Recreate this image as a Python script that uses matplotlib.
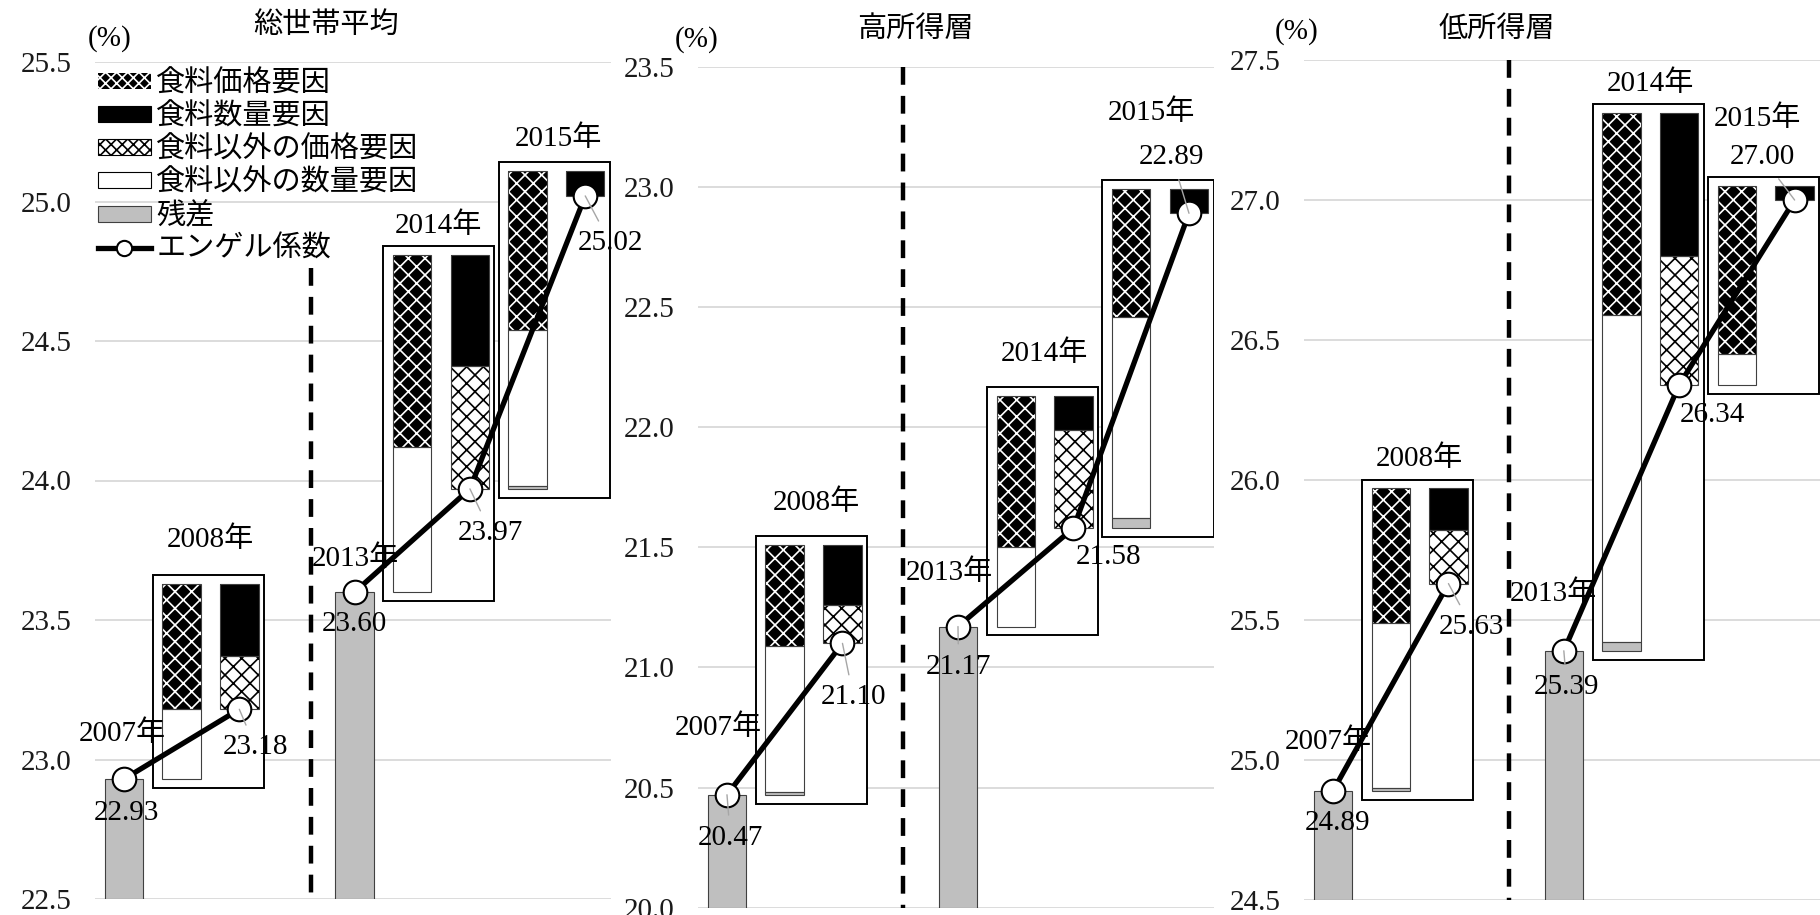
import matplotlib
matplotlib.use("Agg")
import matplotlib.pyplot as plt
from matplotlib.patches import Patch, Rectangle
from matplotlib.lines import Line2D

plt.rcParams['font.family'] = ['Liberation Serif', 'Noto Sans CJK JP']
plt.rcParams['hatch.linewidth'] = 1.2
plt.rcParams['axes.unicode_minus'] = False

# ---------------- data ----------------
panel_titles = ["総世帯平均", "高所得層", "低所得層"]
year_labels = ["2007年", "2008年", "2013年", "2014年", "2015年"]

engel_total = [22.93, 23.18, 23.60, 23.97, 25.02]
engel_high = [20.47, 21.10, 21.17, 21.58, 22.89]
engel_low = [24.89, 25.63, 25.39, 26.34, 27.00]

# contributions to the change: 2008 (vs 2007), 2014 (vs 2013), 2015 (vs 2014)
factor_names = ["食料価格要因", "食料数量要因", "食料以外の価格要因", "食料以外の数量要因", "残差"]
food_price_total = [0.45, 0.69, 0.57]
food_qty_total = [-0.26, -0.40, -0.09]
nonfood_price_total = [-0.19, -0.44, 0.00]
nonfood_qty_total = [0.25, 0.52, 0.56]
residual_total = [0.00, 0.00, 0.01]

food_price_high = [0.42, 0.63, 0.53]
food_qty_high = [-0.25, -0.14, -0.10]
nonfood_price_high = [-0.16, -0.41, 0.00]
nonfood_qty_high = [0.61, 0.33, 0.84]
residual_high = [0.01, 0.00, 0.04]

food_price_low = [0.48, 0.72, 0.60]
food_qty_low = [-0.15, -0.51, -0.05]
nonfood_price_low = [-0.19, -0.46, 0.00]
nonfood_qty_low = [0.59, 1.17, 0.11]
residual_low = [0.01, 0.03, 0.00]

yticks_total = [22.5, 23.0, 23.5, 24.0, 24.5, 25.0, 25.5]
yticks_high = [20.0, 20.5, 21.0, 21.5, 22.0, 22.5, 23.0, 23.5]
yticks_low = [24.5, 25.0, 25.5, 26.0, 26.5, 27.0, 27.5]

legend_line_label = "エンゲル係数"
unit_label = "(%)"

# line segments (index ranges of connected points)
line_segments = [(0, 1), (2, 3, 4)]

# ---------------- layout / style ----------------
W, H = 1820, 915
FS = 21
BAR_W = 0.333
PAD_L, PAD_R = 0.085, 0.046
XLIM = (-0.25, 4.22)
GRAY = "#BFBFBF"
EDGE = "#404040"

panel_px = [(95.2, 62, 610.6, 899), (698.1, 66.7, 1214.4, 907.7), (1304.2, 60, 1820, 900)]
title_px = [(326, 25), (915, 30), (1497, 30)]
unit_px = [(110, 39), (697, 40), (1297, 32)]
divider_x = [1.62, 1.522, 1.523]
divider_top = [24.76, 23.5, 27.5]

year_offsets = [
    [(-1.5, 45), (-28.5, 170), (0.7, 33), (-31, 263), (-27, 57)],
    [(-9, 67), (-26.5, 141), (-8.4, 54), (-29, 174), (-37.5, 101)],
    [(-5, 49), (-29, 125), (-10, 57), (-28.4, 301), (-37, 81)],
]
value_offsets = [
    [(2.5, -34), (16, -38), (0, -32), (21, -44), (25, -47)],
    [(3.5, -43), (11, -54), (0.6, -40), (35, -29), (-17, 56)],
    [(4.5, -32), (23, -43), (3, -36), (33.5, -30), (-32, 42.5)],
]
leaders = [
    [False, True, False, True, True],
    [True, True, True, False, True],
    [False, True, True, False, True],
]

engels = [engel_total, engel_high, engel_low]
factors = [
    dict(fp=food_price_total, fq=food_qty_total, np_=nonfood_price_total, nq=nonfood_qty_total, res=residual_total),
    dict(fp=food_price_high, fq=food_qty_high, np_=nonfood_price_high, nq=nonfood_qty_high, res=residual_high),
    dict(fp=food_price_low, fq=food_qty_low, np_=nonfood_price_low, nq=nonfood_qty_low, res=residual_low),
]
yticks_all = [yticks_total, yticks_high, yticks_low]

HATCH = 'xx'
styles = {
    'fp': dict(face='black', hatchcol='white', hatch=HATCH),
    'fq': dict(face='black', hatchcol='black', hatch=None),
    'np_': dict(face='white', hatchcol='black', hatch=HATCH),
    'nq': dict(face='white', hatchcol='white', hatch=None),
    'res': dict(face=GRAY, hatchcol=GRAY, hatch=None),
}
up_order = ['res', 'nq', 'fp', 'fq', 'np_']
down_order = ['fq', 'np_', 'fp', 'nq', 'res']
level_idx = [0, 2]
change_idx = [1, 3, 4]

fig = plt.figure(figsize=(W / 100, H / 100), dpi=100)


def seg(ax, x, h, bottom, key):
    st = styles[key]
    ax.bar(x, h, bottom=bottom, width=BAR_W, color=st['face'], edgecolor=st['hatchcol'],
           hatch=st['hatch'], linewidth=0, zorder=4)
    ax.bar(x, h, bottom=bottom, width=BAR_W, fill=False, edgecolor=EDGE, linewidth=0.8, zorder=4.1)


for p in range(3):
    x0, y0, x1, y1 = panel_px[p]
    ax = fig.add_axes([x0 / W, 1 - y1 / H, (x1 - x0) / W, (y1 - y0) / H])
    engel = engels[p]
    fac = factors[p]
    ticks = yticks_all[p]
    ymin, ymax = ticks[0], ticks[-1]
    ax.set_xlim(*XLIM)
    ax.set_ylim(ymin, ymax)
    for s in ax.spines.values():
        s.set_visible(False)
    ax.set_xticks([])
    ax.set_yticks(ticks)
    ax.set_yticklabels([f"{t:.1f}" for t in ticks])
    ax.tick_params(axis='y', length=0, pad=17, labelsize=FS, labelcolor='#1a1a1a')
    ax.yaxis.grid(True, color='#D9D9D9', linewidth=1.3)
    ax.set_axisbelow(True)
    ax.patch.set_alpha(0)

    # level bars
    for i in level_idx:
        ax.bar(i, engel[i] - ymin, bottom=ymin, width=BAR_W, color=GRAY,
               edgecolor=EDGE, linewidth=0.8, zorder=2)

    # divider
    ax.plot([divider_x[p], divider_x[p]], [divider_top[p], ymin], color='black', lw=3.2,
            dashes=(4.0, 2.5), dash_capstyle='butt', zorder=2)

    # waterfall decomposition boxes
    for k, i in enumerate(change_idx):
        prev = engel[i - 1]
        lx, rx = i - 0.5, i
        cum = prev
        for key in up_order:
            v = fac[key][k]
            if v > 0:
                seg(ax, lx, v, cum, key)
                cum += v
        top = cum
        for key in down_order:
            v = fac[key][k]
            if v < 0:
                seg(ax, rx, v, cum, key)
                cum += v
        low = min(prev, cum)
        ypad = 0.0105 * (ymax - ymin)
        bx0 = lx - BAR_W / 2 - PAD_L
        bx1 = rx + BAR_W / 2 + PAD_R
        ax.add_patch(Rectangle((bx0, low - ypad), bx1 - bx0, top - low + 2 * ypad,
                               facecolor='white', edgecolor='black', linewidth=1.4, zorder=3))

    # engel coefficient line (two separate segments)
    for segidx in line_segments:
        ax.plot(list(segidx), [engel[i] for i in segidx], color='black', lw=3.8, marker='o',
                markersize=17, markerfacecolor='white', markeredgecolor='black',
                markeredgewidth=1.5, zorder=6)

    # labels
    for i, v in enumerate(engel):
        dx, dy = year_offsets[p][i]
        ax.annotate(year_labels[i], xy=(i, v), xytext=(dx, dy), textcoords='offset pixels',
                    ha='center', va='center', fontsize=FS, zorder=8)
        dx, dy = value_offsets[p][i]
        ap = None
        if leaders[p][i]:
            ap = dict(arrowstyle='-', color='#A6A6A6', lw=1.0, shrinkA=5, shrinkB=0)
        ax.annotate(f"{v:.2f}", xy=(i, v), xytext=(dx, dy), textcoords='offset pixels',
                    ha='center', va='center', fontsize=FS, zorder=8, arrowprops=ap)

    fig.text(title_px[p][0] / W, 1 - title_px[p][1] / H, panel_titles[p], ha='center',
             va='center', fontsize=FS)
    fig.text(unit_px[p][0] / W, 1 - unit_px[p][1] / H, unit_label, ha='center',
             va='center', fontsize=FS)

    if p == 0:
        handles = [
            Patch(facecolor='black', edgecolor='white', hatch='xxx', linewidth=0),
            Patch(facecolor='black', edgecolor='black', linewidth=0.8),
            Patch(facecolor='white', edgecolor='black', hatch='xxx', linewidth=0.8),
            Patch(facecolor='white', edgecolor='black', linewidth=0.8),
            Patch(facecolor=GRAY, edgecolor=EDGE, linewidth=0.8),
            Line2D([], [], color='black', lw=3.8, marker='o', markersize=11,
                   markerfacecolor='white', markeredgecolor='black', markeredgewidth=1.5),
        ]
        ax.legend(handles, factor_names + [legend_line_label], loc='upper left',
                  bbox_to_anchor=(98 / W, 1 - 70 / H), bbox_transform=fig.transFigure,
                  frameon=False, fontsize=FS, handlelength=1.8, handleheight=0.45,
                  handletextpad=0.2, labelspacing=0.2, borderpad=0, borderaxespad=0)

fig.savefig("out.png", dpi=100)
